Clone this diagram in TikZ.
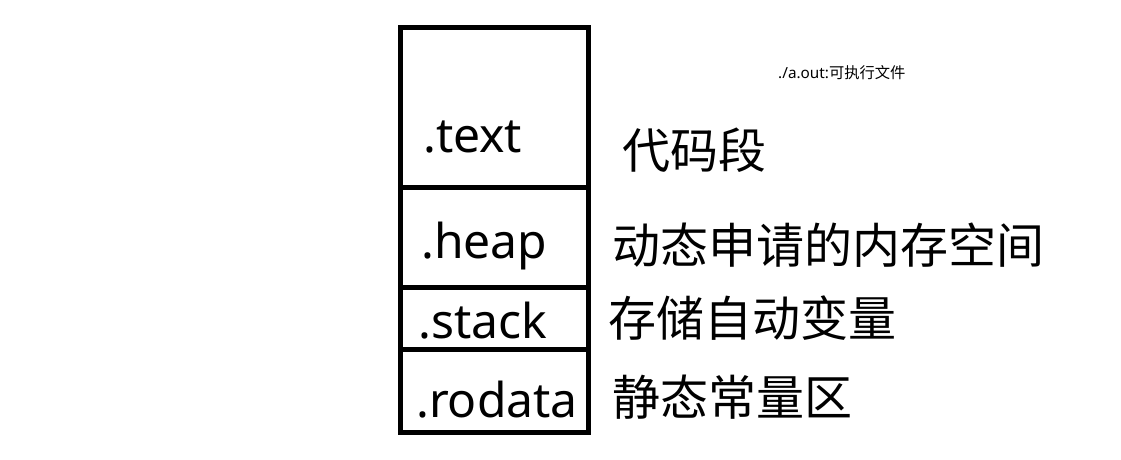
\documentclass[tikz,border=0pt]{standalone}
\usepackage{fontspec}
\setmainfont{Noto Sans}
\newfontfamily\cjk{Noto Sans CJK SC}
\tikzstyle{frame}=[line width=5pt, line join=miter]
\tikzstyle{seg}=[anchor=base west, inner sep=0pt, font=\fontsize{48}{48}\selectfont]
\tikzstyle{note}=[anchor=west, inner sep=0pt, font=\fontsize{48}{48}\selectfont\cjk]
\tikzstyle{small}=[anchor=west, inner sep=0pt, font=\fontsize{15.3}{15.3}\selectfont]

\begin{document}
\begin{tikzpicture}[x=1pt,y=-1pt]
\useasboundingbox (0,0) rectangle (1121,460);

\draw[frame] (400.5,27.5) rectangle (588,432);
\draw[frame] (400.5,187) -- (588,187);
\draw[frame] (400.5,287) -- (588,287);
\draw[frame] (400.5,349) -- (588,349);

\node[seg](seg1)at (423,152){.text};
\node[seg](seg2)at (421,258){.heap};
\node[seg](seg3)at (418,338){.stack};
\node[seg](seg4)at (416,417){.rodata};

\node[note](note1)at (622,150){代码段};
\node[note](note2)at (612,245){动态申请的内存空间};
\node[note](note3)at (608,318){存储自动变量};
\node[note](note4)at (612,397){静态常量区};

\node[small](title)at (778,73){./a.out:{\cjk 可执行文件}};
\end{tikzpicture}
\end{document}
